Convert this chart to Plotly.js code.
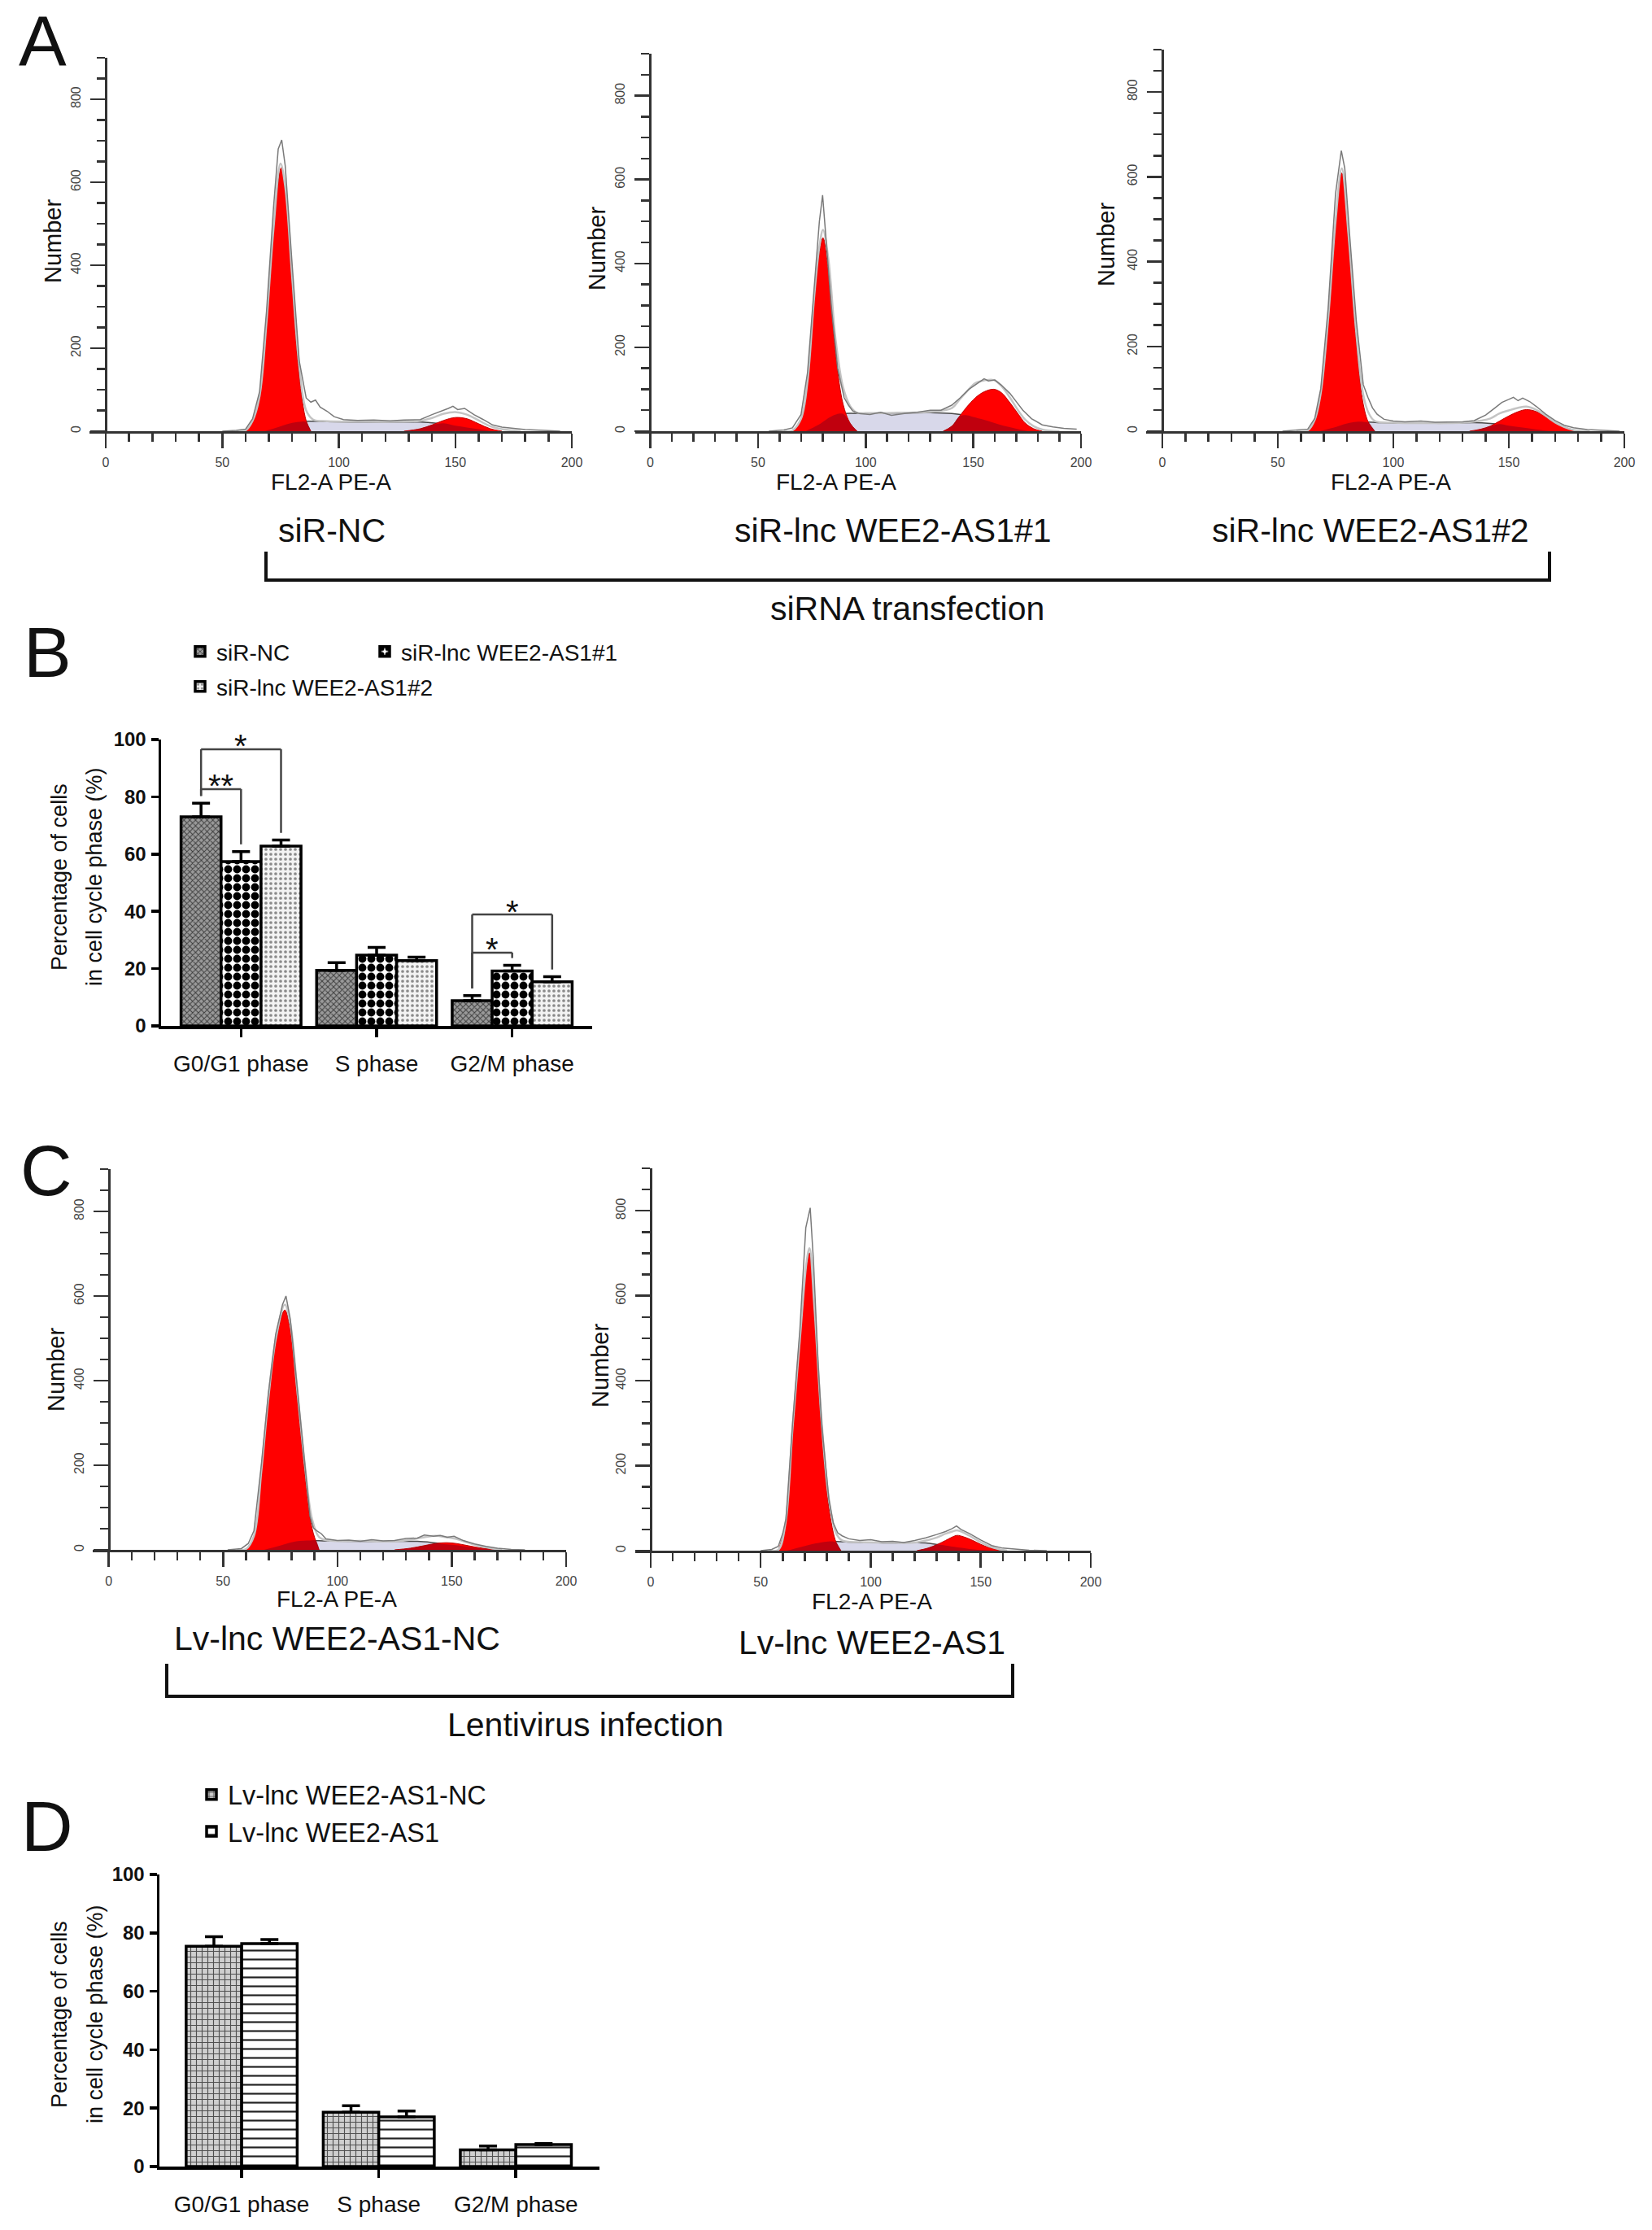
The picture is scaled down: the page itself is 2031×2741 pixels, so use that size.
<!DOCTYPE html>
<html>
<head>
<meta charset="utf-8">
<script src="https://cdn.plot.ly/plotly-3.0.1.min.js"></script>
<style>
body { margin: 0; background: #fff; }
#fig { width: 2031px; height: 2741px; }
</style>
</head>
<body>
<div id="fig"></div>
<script>
// ---------- histogram data: [channel, count] ----------
// A1 siR-NC
let a1S = [[68,0],[74,10],[80,20],[86,24],[95,23],[110,22],[125,22],[135,22],[142,19],[150,13],[158,6],[166,0]];
let a1G1 = [[60,0],[63,25],[66,85],[69,260],[72,480],[74,600],[75.3,635],[77,580],[80,350],[83,135],[86,25],[88,0]];
let a1G2 = [[128,0],[135,6],[140,15],[145,26],[150,33],[155,30],[160,18],[165,6],[170,0]];
let a1D1 = [[68,0],[74,10],[80,20],[84,23],[86,22],[88,0]];
let a1D2 = [[128,0],[135,6],[140,15],[145,19],[150,13],[155,9],[160,5],[166,0]];
let a1Fit = [[55,0],[60,2],[63,25],[66,85],[69,265],[72,490],[75,645],[77,590],[80,370],[83,160],[86,50],[89,28],[95,24],[110,23],[125,23],[135,25],[140,32],[145,42],[150,46],[155,40],[160,26],[165,12],[170,5],[178,0]];
let a1Raw = [[50,0],[56,2],[60,5],[63,30],[66,95],[69,290],[72,540],[74,680],[75.5,702],[77,640],[80,400],[83,170],[86,80],[88,70],[90,75],[92,58],[95,48],[98,35],[102,28],[108,26],[115,27],[122,25],[128,27],[135,28],[140,40],[144,48],[147,55],[149,60],[151,52],[154,55],[158,40],[162,28],[166,15],[170,10],[175,7],[180,4],[188,2],[195,0]];
let a1Marks = [75, 149];

// A2 siR-lnc WEE2-AS1#1
let a2S = [[72,0],[78,15],[84,35],[90,42],[100,42],[115,43],[130,44],[140,42],[148,36],[155,27],[162,16],[170,6],[176,0]];
let a2G1 = [[66,0],[70,30],[73,115],[76,305],[78.5,425],[80.2,461],[82.7,380],[86,188],[89.5,65],[92.8,19],[96,0]];
let a2G2 = [[136,0],[140,12],[143.5,35],[147,58],[151,80],[155,94],[159.5,100],[163,92],[167,68],[171,40],[174,20],[178,6],[182,0]];
let a2D1 = [[72,0],[78,15],[84,35],[88,42],[90,40],[92.8,19],[96,0]];
let a2D2 = [[136,0],[140,12],[143.5,35],[147,38],[150,34],[155,27],[162,16],[170,6],[176,0]];
let a2Fit = [[62,0],[66,2],[70,30],[73,120],[76,315],[78.5,440],[80.2,480],[82.7,410],[86,220],[89.5,105],[92.8,60],[96,44],[100,43],[115,44],[130,46],[140,55],[143.5,75],[147,95],[151,115],[155,121],[159.5,122],[163,108],[167,80],[171,48],[174,28],[178,12],[182,4],[190,0]];
let a2Raw = [[55,0],[62,3],[66,8],[70,40],[73,140],[76,340],[78.5,500],[80,563],[81.5,470],[84,300],[87,150],[90,80],[92,62],[94,48],[97,42],[102,40],[107,45],[112,38],[118,42],[124,45],[130,50],[135,50],[140,62],[144,80],[148,100],[152,115],[155,125],[157,120],[160,122],[163,110],[167,90],[170,70],[173,50],[177,30],[182,15],[187,10],[192,7],[198,5]];
let a2Marks = [81, 157, 170];

// A3 siR-lnc WEE2-AS1#2
let a3S = [[68,0],[74,8],[80,18],[86,22],[95,20],[110,19],[125,19],[135,20],[142,18],[150,13],[158,7],[165,2],[170,0]];
let a3G1 = [[63,0],[66,25],[68.6,87],[71.8,261],[75,488],[77.7,609],[80.6,450],[83.8,223],[87,64],[89.4,19],[92,0]];
let a3G2 = [[133,0],[138,5],[142,12],[146,24],[150,36],[154,46],[157.7,51],[162,46],[166,34],[170,20],[174,10],[178,3],[181,0]];
let a3D1 = [[68,0],[74,8],[80,18],[84,22],[87,22],[89.4,19],[92,0]];
let a3D2 = [[133,0],[138,5],[142,12],[146,17],[150,13],[158,7],[165,2],[170,0]];
let a3Fit = [[58,0],[63,2],[66,27],[68.6,90],[71.8,265],[75,495],[77.7,620],[80.6,465],[83.8,243],[87,86],[89.4,42],[92,24],[100,20],[115,19],[130,20],[138,25],[142,30],[146,42],[150,49],[154,55],[157.7,58],[162,50],[166,36],[170,21],[174,10],[178,3],[185,0]];
let a3Raw = [[52,0],[58,2],[63,5],[66,30],[68.6,100],[71.8,290],[75,560],[77.5,662],[79,620],[81,470],[84,260],[87,110],[89,80],[91,55],[93,40],[96,28],[100,24],[105,22],[112,24],[118,21],[125,22],[130,22],[135,25],[140,38],[144,55],[147,68],[150,75],[152,80],[154,72],[156,78],[159,70],[162,58],[166,40],[170,25],[174,14],[178,8],[184,4],[190,2],[198,0]];
let a3Marks = [77, 154];

// C1 Lv-lnc WEE2-AS1-NC
let c1S = [[68,0],[75,10],[82,20],[88,22],[95,21],[110,20],[125,20],[135,20],[142,17],[150,12],[158,6],[165,2],[170,0]];
let c1G1 = [[60,0],[63.5,31],[66.7,182],[69.8,354],[73,491],[77,567],[79.4,518],[82.5,354],[85.7,182],[88.9,51],[92,0]];
let c1G2 = [[125,0],[132,4],[138,10],[143,15],[147.6,17],[152,15],[157,10],[162,5],[167,2],[171,0]];
let c1D1 = [[68,0],[75,10],[82,20],[88,22],[90.5,22],[92,0]];
let c1D2 = [[125,0],[132,4],[138,10],[143,15],[147.6,13],[152,11],[157,7],[162,4],[167,1],[171,0]];
let c1Fit = [[56,0],[60,2],[63.5,33],[66.7,185],[69.8,358],[73,497],[77,580],[79.4,535],[82.5,374],[85.7,204],[88.9,73],[92,30],[96,22],[110,21],[125,20],[132,24],[138,30],[143,33],[147.6,30],[152,26],[157,17],[162,9],[167,4],[172,0]];
let c1Raw = [[52,0],[58,3],[61,15],[63.5,45],[66.7,200],[69.8,370],[73,510],[76,580],[77.5,600],[79.4,545],[82.5,380],[85.7,200],[88,80],[89.5,52],[91,45],[93,38],[95,26],[100,22],[105,23],[110,20],[115,24],[120,21],[125,22],[130,27],[135,28],[138,35],[142,32],[145,34],[148,30],[151,32],[155,22],[160,14],[165,8],[170,4],[176,1],[182,0]];
let c1Marks = [77];

// C2 Lv-lnc WEE2-AS1
let c2S = [[62,0],[68,8],[75,17],[82,22],[90,20],[100,19],[110,18],[118,19],[125,18],[131,14],[138,9],[145,4],[152,1],[156,0]];
let c2G1 = [[58,0],[61.2,60],[64.5,286],[67.8,491],[71,675],[72.2,701],[74.4,559],[77.7,286],[81,101],[84.3,19],[86.5,0]];
let c2G2 = [[121,0],[126,6],[130,14],[134,24],[137,32],[139.2,36],[142,33],[146,25],[150,15],[154,7],[158,2],[161,0]];
let c2D1 = [[62,0],[68,8],[75,17],[80,21],[82,22],[84.3,19],[86.5,0]];
let c2D2 = [[121,0],[126,6],[130,14],[134,12],[138,9],[145,4],[152,1],[156,0]];
let c2Fit = [[54,0],[58,2],[61.2,62],[64.5,290],[67.8,497],[71,685],[72.2,712],[74.4,574],[77.7,304],[81,122],[84.3,41],[87,24],[95,20],[110,19],[120,19],[126,25],[130,31],[134,40],[137,45],[139.2,48],[142,43],[146,32],[150,20],[154,10],[158,4],[162,0]];
let c2Raw = [[50,0],[55,3],[58,10],[60,40],[61.5,75],[64.5,300],[67.8,520],[70.5,760],[72.5,807],[74,680],[76,450],[77.7,300],[81,120],[83,65],[85,42],[87,35],[90,28],[95,24],[100,26],[105,21],[110,22],[115,19],[120,24],[125,30],[130,38],[134,45],[137,52],[139,58],[141,50],[145,40],[150,25],[155,12],[160,6],[166,3],[172,1],[180,0]];
let c2Marks = [72, 140];

// ---------- bar chart data ----------
let phases = ['G0/G1 phase', 'S phase', 'G2/M phase'];

let bNames = ['siR-NC', 'siR-lnc WEE2-AS1#1', 'siR-lnc WEE2-AS1#2'];
let bNC = [73.0, 19.4, 8.8];
let bNCerr = [4.8, 2.7, 1.8];
let b1 = [57.4, 24.7, 19.2];
let b1err = [3.5, 2.7, 2.0];
let b2 = [62.8, 22.8, 15.4];
let b2err = [2.1, 1.2, 1.8];
// significance: phase index, bar a, bar b, bracket level, label
let bSig = [
	[0, 0, 1, 82.7, '**'],
	[0, 0, 2, 96.6, '*'],
	[2, 0, 1, 25.6, '*'],
	[2, 0, 2, 38.9, '*']
];

let dNames = ['Lv-lnc WEE2-AS1-NC', 'Lv-lnc WEE2-AS1'];
let dNC = [75.4, 18.6, 5.7];
let dNCerr = [3.3, 2.2, 1.3];
let dAS = [76.3, 17.0, 7.5];
let dASerr = [1.4, 2.0, 0.4];

let histTicks = [0, 50, 100, 150, 200];
let countTicks = [0, 200, 400, 600, 800];
let pctTicks = [0, 20, 40, 60, 80, 100];

// ---------- page geometry ----------
const W = 2031, H = 2741;
const fx = px => px / W;
const fy = py => 1 - py / H;
const FONT = 'Arial, "Liberation Sans", Helvetica, sans-serif';

let traces = [];
let layout = {
	width: W, height: H,
	margin: {l: 0, r: 0, t: 0, b: 0},
	paper_bgcolor: 'white', plot_bgcolor: 'rgba(0,0,0,0)',
	font: {family: FONT, color: '#111'},
	barmode: 'overlay',
	showlegend: true,
	annotations: [],
	shapes: []
};

const xs = p => p.map(d => d[0]);
const ys = p => p.map(d => d[1]);

function histPanel(n, box, S, G1, G2, D1, D2, Fit, Raw, marks) {
	let xa = 'x' + n, ya = 'y' + n;
	let base = {xaxis: xa, yaxis: ya, type: 'scatter', mode: 'lines', showlegend: false, hoverinfo: 'skip'};
	traces.push(Object.assign({}, base, {x: xs(S), y: ys(S), fill: 'tozeroy', fillcolor: '#d8d8ea', line: {color: '#4a4a4a', width: 1.5, shape: 'spline'}}));
	traces.push(Object.assign({}, base, {x: xs(G1), y: ys(G1), fill: 'tozeroy', fillcolor: '#ff0000', line: {color: '#c00000', width: 1, shape: 'spline'}}));
	traces.push(Object.assign({}, base, {x: xs(G2), y: ys(G2), fill: 'tozeroy', fillcolor: '#ff0000', line: {color: '#c00000', width: 1, shape: 'spline'}}));
	traces.push(Object.assign({}, base, {x: xs(D1), y: ys(D1), fill: 'tozeroy', fillcolor: 'rgba(140,0,25,0.55)', line: {width: 0, shape: 'spline'}}));
	traces.push(Object.assign({}, base, {x: xs(D2), y: ys(D2), fill: 'tozeroy', fillcolor: 'rgba(140,0,25,0.55)', line: {width: 0, shape: 'spline'}}));
	traces.push(Object.assign({}, base, {x: xs(Fit), y: ys(Fit), line: {color: '#c4c4c4', width: 2.5, shape: 'spline'}}));
	traces.push(Object.assign({}, base, {x: xs(Raw), y: ys(Raw), line: {color: '#7a7a7a', width: 1.5}}));
	traces.push({x: marks, y: marks.map(() => -20), xaxis: xa, yaxis: ya, type: 'scatter', mode: 'markers',
		marker: {symbol: 'triangle-up', size: 15, color: 'black'}, cliponaxis: false, showlegend: false, hoverinfo: 'skip'});

	// box: [x-axis left px, x=0 px, x=200 px, top px, bottom px]
	let tick = {ticks: 'outside', tickcolor: '#333', tickwidth: 2.5};
	layout['xaxis' + n] = Object.assign({
		domain: [fx(box[0]), fx(box[2])], range: [-7, 200], anchor: ya,
		showline: true, linecolor: '#333', linewidth: 2.5, showgrid: false, zeroline: false,
		tickvals: histTicks, ticklen: 18, ticklabelstandoff: 4,
		minor: {dtick: 10, tick0: 0, ticks: 'outside', ticklen: 10, tickwidth: 2.5, tickcolor: '#333'},
		tickfont: {size: 16, color: '#444'}
	}, tick);
	layout['yaxis' + n] = Object.assign({
		domain: [fy(box[4]), fy(box[3])], range: [0, 900], anchor: 'free', position: fx(box[1]),
		showline: true, linecolor: '#333', linewidth: 2.5, showgrid: false, zeroline: false,
		tickvals: countTicks, ticklen: 18, tickangle: -90, ticklabelstandoff: 6,
		minor: {dtick: 50, tick0: 0, ticks: 'outside', ticklen: 10, tickwidth: 2.5, tickcolor: '#333'},
		tickfont: {size: 16, color: '#444'}
	}, tick);
}

histPanel(1, [110, 130, 703, 71, 530], a1S, a1G1, a1G2, a1D1, a1D2, a1Fit, a1Raw, a1Marks);
histPanel(2, [781, 799, 1329, 66, 530], a2S, a2G1, a2G2, a2D1, a2D2, a2Fit, a2Raw, a2Marks);
histPanel(3, [1409, 1429, 1997, 61, 530], a3S, a3G1, a3G2, a3D1, a3D2, a3Fit, a3Raw, a3Marks);
histPanel(4, [114, 134, 696, 1437, 1905], c1S, c1G1, c1G2, c1D1, c1D2, c1Fit, c1Raw, c1Marks);
histPanel(5, [781, 800, 1341, 1436, 1906], c2S, c2G1, c2G2, c2D1, c2D2, c2Fit, c2Raw, c2Marks);

// ---------- bar panels ----------
let catIdx = phases.map((p, i) => i);

function barAxes(n, box, xr) {
	layout['xaxis' + n] = {
		domain: [fx(box[0]), fx(box[1])], range: xr, anchor: 'y' + n,
		showline: true, linecolor: 'black', linewidth: 3.5, showgrid: false, zeroline: false,
		tickvals: catIdx, ticktext: phases, ticks: 'outside', ticklen: 10, tickwidth: 3.5, tickcolor: 'black',
		ticklabelstandoff: 9, tickfont: {size: 28, color: '#111'}
	};
	layout['yaxis' + n] = {
		domain: [fy(box[3]), fy(box[2])], range: [0, 100], anchor: 'x' + n,
		showline: true, linecolor: 'black', linewidth: 3.5, showgrid: false, zeroline: false,
		tickvals: pctTicks, ticks: 'outside', ticklen: 9, tickwidth: 3.5, tickcolor: 'black',
		ticklabelstandoff: 1, tickfont: {size: 24, color: '#111', weight: 'bold'}
	};
}

function barTrace(n, name, vals, errs, w, off, pattern, legend) {
	return {
		type: 'bar', x: catIdx, y: vals, name: name, xaxis: 'x' + n, yaxis: 'y' + n,
		width: w, offset: off, legend: legend,
		marker: {color: pattern.bgcolor, line: {color: 'black', width: 3.5}, pattern: pattern},
		error_y: {type: 'data', symmetric: false, array: errs, arrayminus: errs.map(() => 0),
			color: 'black', thickness: 3.5, width: 11},
		hoverinfo: 'skip'
	};
}

// B
let wB = 0.295;
let offB = [-1.5 * wB, -0.5 * wB, 0.5 * wB];
barAxes(6, [198, 728, 909, 1261], [-0.59, 2.59]);
traces.push(barTrace(6, bNames[0], bNC, bNCerr, wB, offB[0],
	{shape: 'x', bgcolor: '#9a9a9a', fgcolor: '#3c3c3c', size: 5, solidity: 0.35}, 'legend'));
traces.push(barTrace(6, bNames[1], b1, b1err, wB, offB[1],
	{shape: '.', bgcolor: 'white', fgcolor: 'black', size: 11, solidity: 0.62}, 'legend4'));
traces.push(barTrace(6, bNames[2], b2, b2err, wB, offB[2],
	{shape: '.', bgcolor: '#f3f3f3', fgcolor: '#8a8a8a', size: 6, solidity: 0.3}, 'legend2'));

let bTops = [bNC.map((v, i) => v + bNCerr[i]), b1.map((v, i) => v + b1err[i]), b2.map((v, i) => v + b2err[i])];
bSig.forEach(s => {
	let [ph, a, b, h, label] = s;
	let xa = ph + offB[a] + wB / 2, xb = ph + offB[b] + wB / 2;
	let ln = {type: 'line', xref: 'x6', yref: 'y6', line: {color: '#444', width: 2.5}};
	layout.shapes.push(Object.assign({x0: xa, x1: xa, y0: bTops[a][ph] + 2.5, y1: h}, ln));
	layout.shapes.push(Object.assign({x0: xa, x1: xb, y0: h, y1: h}, ln));
	layout.shapes.push(Object.assign({x0: xb, x1: xb, y0: h, y1: bTops[b][ph] + 2.5}, ln));
	layout.annotations.push({xref: 'x6', yref: 'y6', x: (xa + xb) / 2, y: h + 1, text: label,
		showarrow: false, xanchor: 'center', yanchor: 'middle', font: {size: 40, color: '#111', family: FONT}});
});

// D
let wD = 0.405;
let offD = [-wD, 0];
barAxes(7, [196, 737, 2304, 2663], [-0.6, 2.61]);
traces.push(barTrace(7, dNames[0], dNC, dNCerr, wD, offD[0],
	{shape: '+', bgcolor: '#cfcfcf', fgcolor: '#505050', size: 7, solidity: 0.3}, 'legend3'));
traces.push(barTrace(7, dNames[1], dAS, dASerr, wD, offD[1],
	{shape: '-', bgcolor: 'white', fgcolor: '#222', size: 11, solidity: 0.2}, 'legend3'));

let legBase = {xanchor: 'left', yanchor: 'top', bgcolor: 'rgba(0,0,0,0)', borderwidth: 0,
	itemclick: false, itemdoubleclick: false, tracegroupgap: 0, orientation: 'v'};
let bFont = {size: 28, color: '#111', family: FONT};
layout.legend = Object.assign({}, legBase, {x: fx(226), y: fy(776), font: bFont});
layout.legend4 = Object.assign({}, legBase, {x: fx(453), y: fy(776), font: bFont});
layout.legend2 = Object.assign({}, legBase, {x: fx(226), y: fy(819), font: bFont});
layout.legend3 = Object.assign({}, legBase, {x: fx(240), y: fy(2178),
	font: {size: 32.5, color: '#111', family: FONT}});

// ---------- texts ----------
function txt(text, x, y, size, angle) {
	layout.annotations.push({xref: 'paper', yref: 'paper', x: fx(x), y: fy(y), text: text,
		showarrow: false, xanchor: 'center', yanchor: 'middle', textangle: angle || 0,
		font: {size: size, color: '#111', family: FONT}});
}

txt('A', 52, 50, 88); txt('B', 58, 801, 88); txt('C', 57, 1438, 88); txt('D', 58, 2244, 88);

[[65, 297], [734, 306], [1360, 301], [69, 1684], [738, 1679]].forEach(p => txt('Number', p[0], p[1], 29, -90));
[[407, 593], [1028, 593], [1710, 593], [414, 1965], [1072, 1968]].forEach(p => txt('FL2-A PE-A', p[0], p[1], 28));

txt('siR-NC', 408, 652, 41);
txt('siR-lnc WEE2-AS1#1', 1098, 652, 41);
txt('siR-lnc WEE2-AS1#2', 1685, 652, 41);
txt('siRNA transfection', 1115, 748, 41);
txt('Lv-lnc WEE2-AS1-NC', 414, 2014, 41);
txt('Lv-lnc WEE2-AS1', 1072, 2019, 41);
txt('Lentivirus infection', 720, 2120, 41);

txt('Percentage of cells', 73, 1078, 27, -90);
txt('in cell cycle phase (%)', 116, 1078, 27, -90);
txt('Percentage of cells', 73, 2476, 27, -90);
txt('in cell cycle phase (%)', 117, 2476, 27, -90);

// group brackets
function bracket(x0, x1, yTop, yLine) {
	let p = 'M' + fx(x0) + ',' + fy(yTop) + ' L' + fx(x0) + ',' + fy(yLine) +
		' L' + fx(x1) + ',' + fy(yLine) + ' L' + fx(x1) + ',' + fy(yTop);
	layout.shapes.push({type: 'path', xref: 'paper', yref: 'paper', path: p, line: {color: '#111', width: 4}});
}
bracket(327, 1905, 678, 713);
bracket(205, 1245, 2045, 2085);

Plotly.newPlot(document.getElementById('fig'), traces, layout, {staticPlot: true});
</script>
</body>
</html>
